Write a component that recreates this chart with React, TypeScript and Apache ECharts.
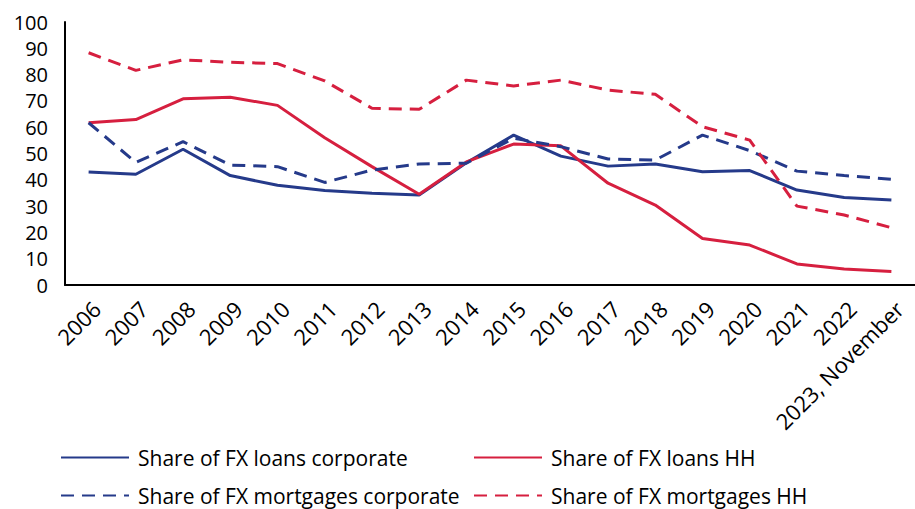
import React, { useEffect, useRef } from "react";
import * as echarts from "echarts";

const categories = ["2006","2007","2008","2009","2010","2011","2012","2013","2014","2015","2016","2017","2018","2019","2020","2021","2022","2023, November"];
const loansCorporate = [43.0, 42.1, 51.6, 41.6, 37.9, 35.9, 34.9, 34.2, 46.5, 57.0, 49.0, 45.2, 46.0, 43.1, 43.5, 36.1, 33.3, 32.3];
const loansHH = [61.7, 62.9, 70.8, 71.4, 68.3, 56.0, 45.0, 34.5, 46.8, 53.6, 52.9, 38.7, 30.4, 17.7, 15.2, 8.0, 6.1, 5.1];
const mortgagesCorporate = [61.7, 46.6, 54.5, 45.6, 45.0, 39.0, 43.7, 46.0, 46.3, 55.8, 52.6, 47.9, 47.5, 57.0, 51.1, 43.3, 41.6, 40.2];
const mortgagesHH = [88.3, 81.6, 85.6, 84.7, 84.2, 77.6, 67.2, 66.8, 77.9, 75.7, 77.9, 74.1, 72.5, 60.2, 55.1, 30.0, 26.6, 21.8];

const BLUE = "#253A8A";
const RED = "#D61F3F";
const FONT = "Open Sans";

export default function App() {
  const ref = useRef<HTMLDivElement>(null);
  useEffect(() => {
    if (!ref.current) return;
    const chart = echarts.init(ref.current, undefined, { renderer: "svg" });
    const mk = (name: string, data: number[], color: string, dashed: boolean) => ({
      name,
      type: "line",
      data,
      showSymbol: false,
      symbol: "none",
      lineStyle: { color, width: 3, type: dashed ? [13, 8] : "solid" },
      itemStyle: { color },
    });
    const legendBase = {
      itemWidth: 68,
      itemHeight: 3,
      itemGap: 0,
      itemStyle: { opacity: 0 },
      textStyle: { fontFamily: FONT, fontSize: 21, color: "#000", padding: [0, 0, 0, 4] },
      padding: 0,
    };
    chart.setOption({
      animation: false,
      grid: { left: 65, top: 22, right: -11, bottom: 224, containLabel: false },
      xAxis: {
        type: "category",
        data: categories,
        boundaryGap: true,
        axisLine: { lineStyle: { color: "#000", width: 2 } },
        axisTick: { show: false },
        axisLabel: { rotate: 45, fontFamily: FONT, fontSize: 22, color: "#000", margin: 12, interval: 0, verticalAlign: "top" },
      },
      yAxis: {
        type: "value",
        min: 0,
        max: 100,
        interval: 10,
        axisLine: { show: true, lineStyle: { color: "#000", width: 2 } },
        axisTick: { show: false },
        splitLine: { show: false },
        axisLabel: { fontFamily: FONT, fontSize: 20, color: "#000", margin: 17 },
      },
      legend: [
        { ...legendBase, data: ["Share of FX loans corporate"], left: 60, top: 447 },
        { ...legendBase, data: ["Share of FX loans HH"], left: 473, top: 447 },
        { ...legendBase, data: ["Share of FX mortgages corporate"], left: 60, top: 485 },
        { ...legendBase, data: ["Share of FX mortgages HH"], left: 473, top: 485 },
      ],
      series: [
        mk("Share of FX loans corporate", loansCorporate, BLUE, false),
        mk("Share of FX loans HH", loansHH, RED, false),
        mk("Share of FX mortgages corporate", mortgagesCorporate, BLUE, true),
        mk("Share of FX mortgages HH", mortgagesHH, RED, true),
      ],
    });
    return () => chart.dispose();
  }, []);
  return <div ref={ref} style={{ width: 915, height: 509, position: "absolute", left: 0, top: 0 }} />;
}
